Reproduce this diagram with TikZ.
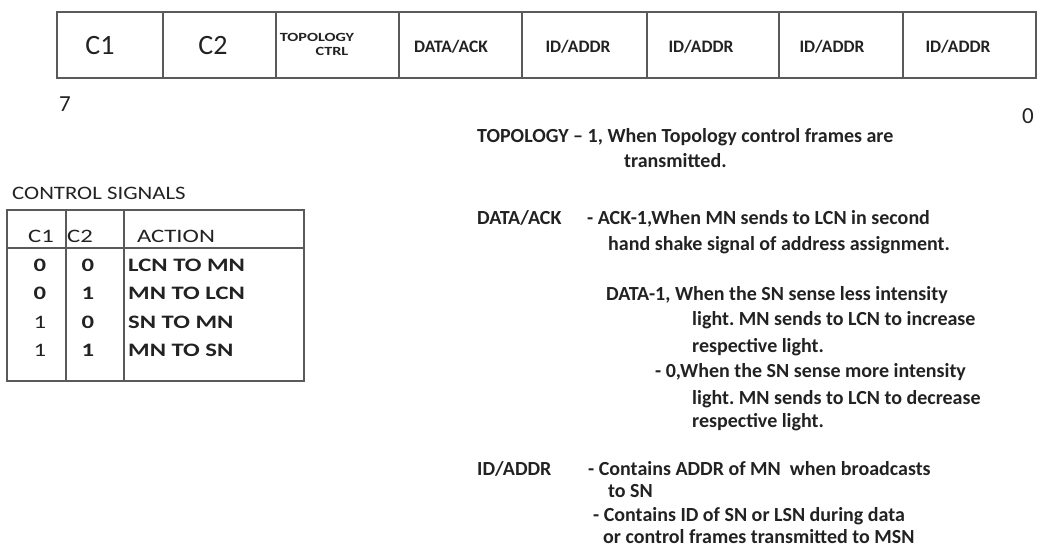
\documentclass[tikz,border=0pt]{standalone}
\usepackage{fontspec}
\setmainfont{Carlito}
\newfontfamily\tabfont[FakeStretch=1.3]{Carlito}
\newfontfamily\capfont[FakeStretch=1.2]{Carlito}
\frenchspacing
\definecolor{ink}{HTML}{222222}
\definecolor{rule}{HTML}{5A5A5A}
\tikzset{
  cell/.style={draw=rule, line width=1.8pt},
  grid/.style={draw=rule, line width=1.4pt},
  big/.style={font=\fontsize{28}{30}\selectfont, text=ink, inner sep=0},
  fld/.style={font=\bfseries\fontsize{17.5}{19}\selectfont, text=ink, inner sep=0},
  tiny/.style={font=\tabfont\bfseries\fontsize{12.5}{14}\selectfont, text=ink, inner sep=0},
  bitno/.style={font=\fontsize{23}{25}\selectfont, text=ink, inner sep=0},
  desc/.style={font=\bfseries\fontsize{20}{22}\selectfont, text=ink, inner sep=0, anchor=base west},
  tab/.style={font=\tabfont\fontsize{19}{22}\selectfont, text=ink, inner sep=0},
  tabb/.style={font=\tabfont\bfseries\fontsize{19}{22}\selectfont, text=ink, inner sep=0},
}
\begin{document}
\begin{tikzpicture}[x=1pt, y=-1pt]
\useasboundingbox (0,0) rectangle (1044,547);

% frame layout, bit 7 on the left, bit 0 on the right
\draw[cell] (57,12) rectangle (1036,78);
\foreach \xx in {163,276,399,522,647,779,903}
  \draw[cell] (\xx,12) -- (\xx,78);

\node[big] (c1) at (100,46) {C1};
\node[big] (c2) at (213,46) {C2};
\node[tiny] (topo) at (317,37) {TOPOLOGY};
\node[tiny] (ctrl) at (332,51) {CTRL};
\node[fld] (dack) at (451,47) {DATA/ACK};
\node[fld] (id1) at (578,47) {ID/ADDR};
\node[fld] (id2) at (701,47) {ID/ADDR};
\node[fld] (id3) at (832,47) {ID/ADDR};
\node[fld] (id4) at (958,47) {ID/ADDR};

\node[bitno] (b7) at (65,104) {7};
\node[bitno] (b0) at (1028,116) {0};

% control signal table
\node[font=\capfont\fontsize{19}{22}\selectfont, text=ink, inner sep=0, anchor=base west] (ctitle) at (12,199) {CONTROL SIGNALS};
\draw[grid] (7,210) rectangle (304,381);
\draw[grid] (7,248) -- (304,248);
\draw[grid] (66,210) -- (66,381);
\draw[grid] (124,210) -- (124,381);

\node[tab] (h1) at (41,236) {C1};
\node[tab, anchor=west] (h2) at (67,236) {C2};
\node[tab] (h3) at (176,236) {ACTION};

\node[tabb] (r1a) at (40,265) {0};
\node[tabb] (r1b) at (88,265) {0};
\node[tabb, anchor=west] (r1c) at (128,265) {LCN TO MN};
\node[tabb] (r2a) at (40,293) {0};
\node[tabb] (r2b) at (88,293) {1};
\node[tabb, anchor=west] (r2c) at (128,293) {MN TO LCN};
\node[tab] (r3a) at (40,322) {1};
\node[tabb] (r3b) at (88,322) {0};
\node[tabb, anchor=west] (r3c) at (128,322) {SN TO MN};
\node[tab] (r4a) at (40,350) {1};
\node[tabb] (r4b) at (88,350) {1};
\node[tabb, anchor=west] (r4c) at (128,350) {MN TO SN};

% field descriptions
\node[desc] (t1) at (477,142) {TOPOLOGY -- 1, When Topology control frames are};
\node[desc] (t2) at (624,167) {transmitted.};
\node[desc] (t3a) at (477,224) {DATA/ACK};
\node[desc] (t3b) at (587,224) {- ACK-1,When MN sends to LCN in second};
\node[desc] (t4) at (608,250) {hand shake signal of address assignment.};
\node[desc] (t5) at (606,300) {DATA-1, When the SN sense less intensity};
\node[desc] (t6) at (692,325) {light. MN sends to LCN to increase};
\node[desc] (t7) at (692,352) {respective light.};
\node[desc] (t8) at (655,377) {- 0,When the SN sense more intensity};
\node[desc] (t9) at (692,404) {light. MN sends to LCN to decrease};
\node[desc] (t10) at (692,427) {respective light.};
\node[desc] (t11a) at (477,475) {ID/ADDR};
\node[desc] (t11b) at (588,475) {- Contains ADDR of MN\ \ when broadcasts};
\node[desc] (t12) at (608,497) {to SN};
\node[desc] (t13) at (593,521) {- Contains ID of SN or LSN during data};
\node[desc] (t14) at (603,543) {or control frames transmitted to MSN};
\end{tikzpicture}
\end{document}
